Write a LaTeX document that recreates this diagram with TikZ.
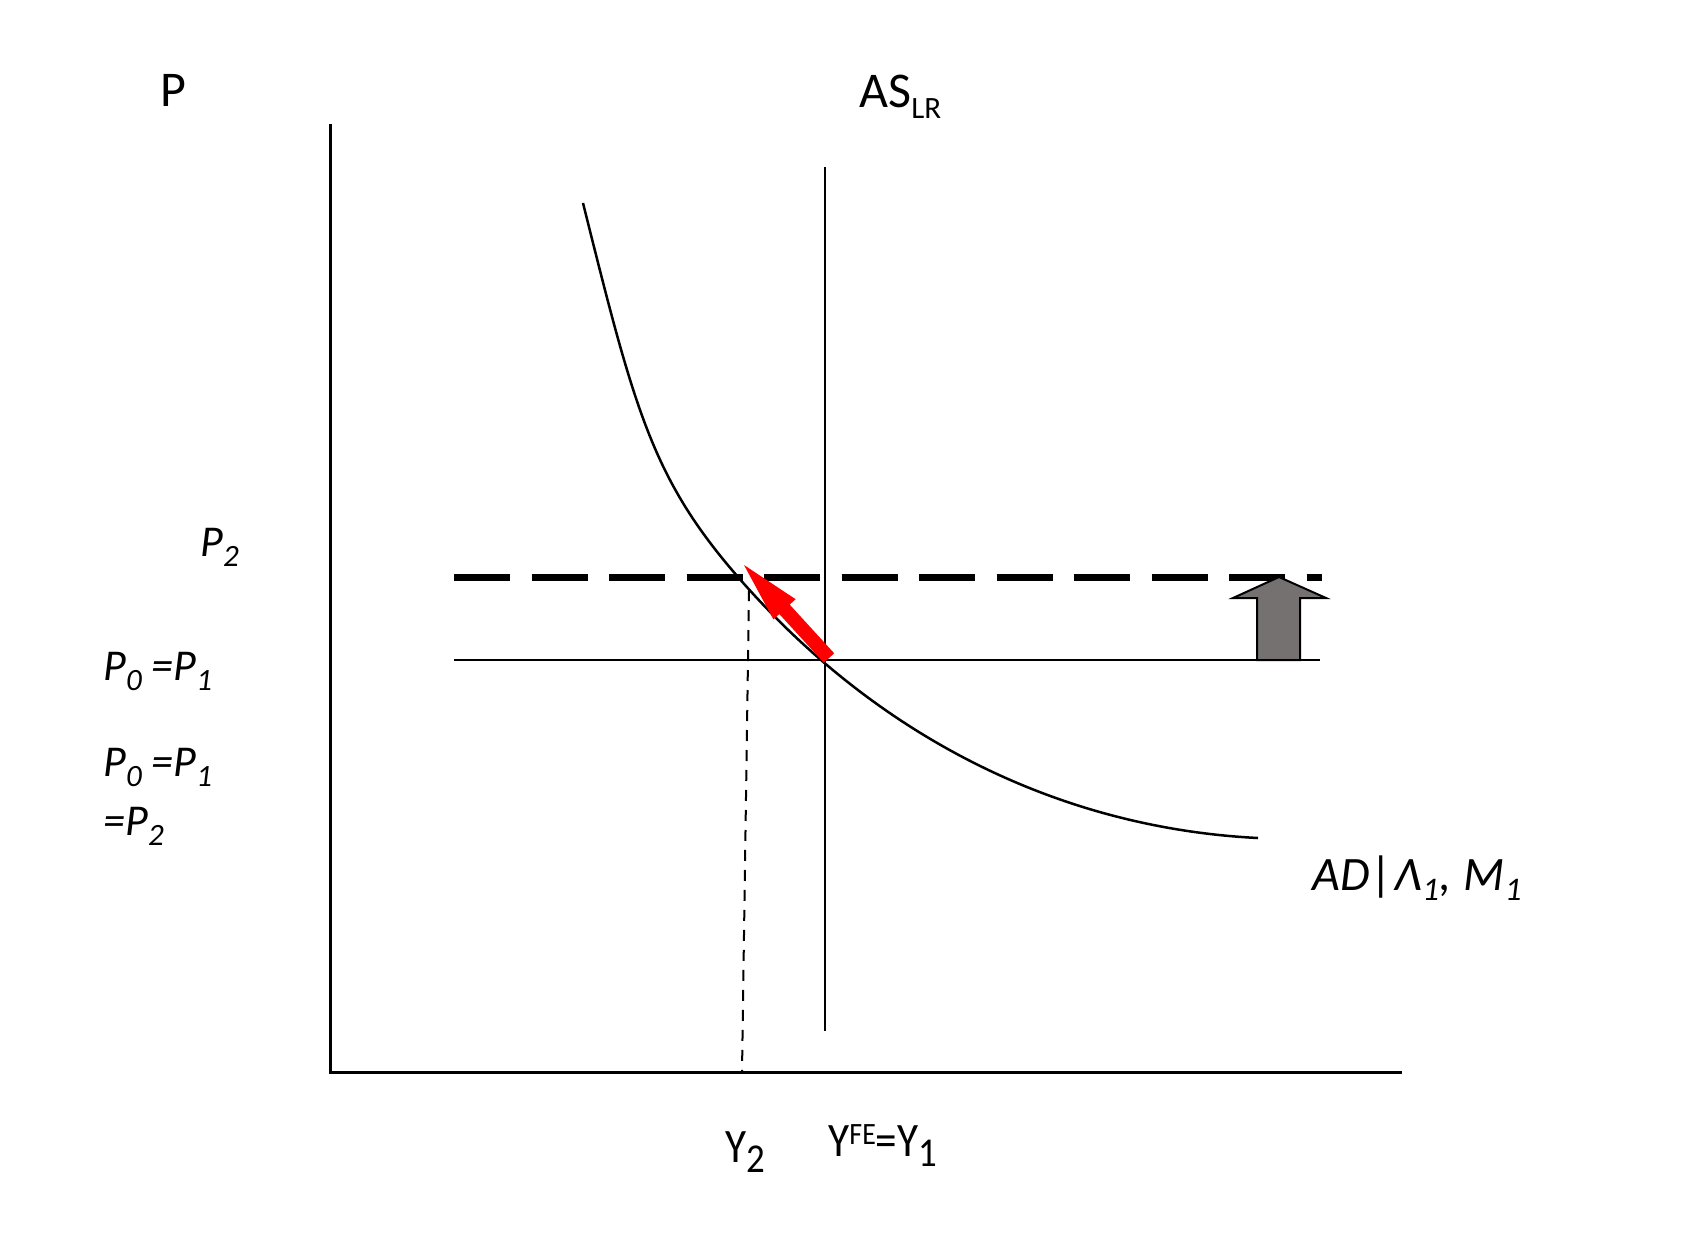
\documentclass[tikz,border=0pt]{standalone}
\usepackage{fontspec}
\setmainfont{Carlito}
\newfontfamily\narrowfont[FakeStretch=0.9]{Carlito}
\definecolor{arrgray}{RGB}{118,113,113}
\newcommand{\dn}[3]{\raisebox{-#2}{\fontsize{#1}{#1}\selectfont #3}}
\newcommand{\upx}[3]{\raisebox{#2}{\fontsize{#1}{#1}\selectfont #3}}
\begin{document}
\begin{tikzpicture}[x=0.5pt,y=-0.5pt,
  axis/.style={line width=1.5pt},
  thin/.style={line width=1.2pt},
  lbl/.style={anchor=base west,inner sep=0pt,font=\fontsize{22}{26}\selectfont\itshape},
  ulbl/.style={anchor=base west,inner sep=0pt,font=\fontsize{25}{30}\selectfont},
  ylbl/.style={anchor=base west,inner sep=0pt,font=\fontsize{24}{28}\narrowfont}]
\useasboundingbox (0,0) rectangle (1691,1238);
% axes
\coordinate (O) at (330,1072);
\coordinate (Ytop) at (330,124);
\coordinate (Xend) at (1402,1072);
\draw[axis] (Ytop) -- (O) -- (Xend);
% AS long run
\coordinate (ASt) at (825,167);
\coordinate (ASb) at (825,1031);
\draw[thin] (ASt) -- (ASb);
% price lines
\coordinate (P0l) at (454,660);
\coordinate (P0r) at (1320,660);
\draw[thin] (P0l) -- (P0r);
\coordinate (P2l) at (454,577);
\coordinate (P2r) at (1322,577);
\draw[line width=3.5pt,dash pattern=on 28pt off 10.75pt] (P2l) -- (P2r);
% dotted Y2
\coordinate (Y2t) at (749,590);
\coordinate (Y2b) at (742,1072);
\draw[line width=1pt,dash pattern=on 5.5pt off 4.5pt] (Y2t) -- (Y2b);
% AD curve
\coordinate (A0) at (583,203);
\coordinate (A2) at (738,577);
\coordinate (A5) at (1258,838);
\draw[line width=1.25pt] (A0) .. controls (634.5,409.1) and (651.7,477.8) .. (A2)
  .. controls (876.8,736.6) and (1058.8,828) .. (A5);
% red arrow
\fill[red] (744,565) -- (795.6,599.2) -- (789.7,604.6) -- (834.2,653.3) -- (823.8,662.7) -- (779.3,614.0) -- (773.4,619.4) -- cycle;
% gray block arrow
\filldraw[fill=arrgray,draw=black,line width=1pt] (1279,577) -- (1326,598) -- (1300,598) -- (1300,660) -- (1257,660) -- (1257,598) -- (1233,598) -- cycle;
% labels
\node[ulbl] (lP) at (160,106) {P};
\node[ulbl] (lAS) at (859,107) {AS\dn{15.5}{5.5pt}{LR}};
\node[lbl] (lP2) at (200,556) {P\dn{15.5}{5pt}{2}};
\node[lbl] (lP01) at (103,680) {P\dn{15.5}{5pt}{0} =P\dn{15.5}{5pt}{1}};
\node[lbl] (lP012) at (103,776) {\begin{tabular}[t]{@{}l@{}}P\dn{15.5}{5pt}{0} =P\dn{15.5}{5pt}{1}\\[3.5pt]=P\dn{15.5}{5pt}{2}\end{tabular}};
\node[lbl,font=\fontsize{24}{28}\selectfont\itshape] (lAD) at (1312,890) {AD\kern1pt|\kern0.5pt Λ\dn{16.5}{5pt}{1}, \kern1pt M\dn{16.5}{5pt}{1}};
\node[ylbl] (lY2) at (725,1162) {Y\dn{20.5}{5pt}{2}};
\node[ylbl] (lYFE) at (828,1156) {Y\upx{15.5}{6pt}{FE}=Y\dn{20.5}{5pt}{1}};
\end{tikzpicture}
\end{document}
